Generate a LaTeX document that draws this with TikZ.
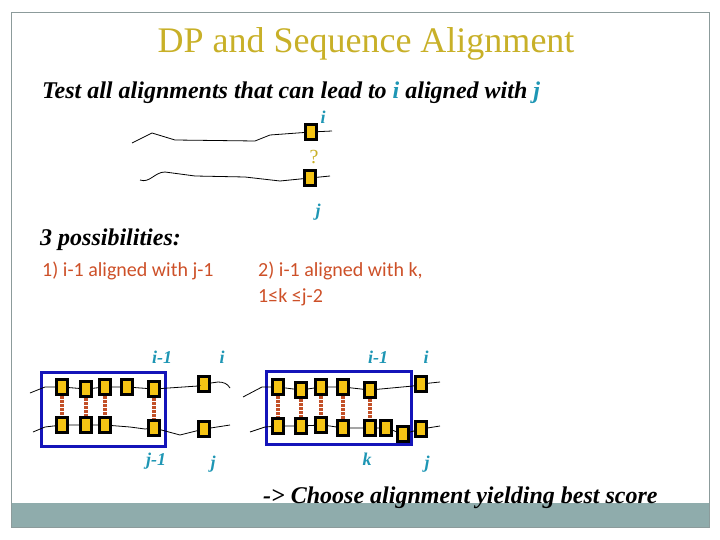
\documentclass[tikz,border=0pt]{standalone}
\usepackage{fontspec}
\setmainfont{Liberation Serif}
\newfontfamily\calibrifont{Carlito}
\definecolor{titlegold}{RGB}{200,176,40}
\definecolor{boxgold}{RGB}{245,196,20}
\definecolor{labteal}{RGB}{30,150,180}
\definecolor{orangered}{RGB}{205,80,40}
\definecolor{pairred}{RGB}{195,80,40}
\definecolor{rectblue}{RGB}{20,20,185}
\definecolor{framegray}{RGB}{140,155,155}
\definecolor{bandgray}{RGB}{143,172,172}
\tikzset{
  seqbox/.style={draw=black, line width=2.8pt, fill=boxgold, minimum width=10.5pt, minimum height=15.5pt, inner sep=0pt},
  lbl/.style={font=\fontsize{18}{18}\selectfont\bfseries\itshape, text=labteal, inner sep=0pt},
  seqline/.style={line width=0.8pt, black},
  pairline/.style={draw=pairred, line width=3.2pt, dash pattern=on 2.6pt off 1.4pt},
  grouprect/.style={draw=rectblue, line width=3pt},
  bigtext/.style={font=\fontsize{24}{24}\selectfont\bfseries\itshape, inner sep=0pt, anchor=base west},
  caltext/.style={font=\fontsize{20}{20}\selectfont\calibrifont, text=orangered, inner sep=0pt, anchor=base west}
}
\begin{document}
\begin{tikzpicture}[x=1pt,y=-1pt]
\useasboundingbox (0,0) rectangle (720,540);
% frame and band
\fill[bandgray] (11,503) rectangle (709,527);
\draw[framegray, line width=0.8pt] (11,12) rectangle (709,527);
% title
\node[font=\fontsize{36}{36}\selectfont, text=titlegold, anchor=base, inner sep=0pt] (title) at (366,53) {DP and Sequence Alignment};
\node[bigtext] (sub) at (42,99) {Test all alignments that can lead to \textcolor{labteal}{i} aligned with \textcolor{labteal}{j}};
% top pair
\node[seqbox] (u1) at (311,132) {};
\node[seqbox] (u2) at (310,178) {};
\node[lbl] (ui) at (323,117) {i};
\node[lbl] (uj) at (318,212) {j};
\node[font=\fontsize{20}{20}\selectfont, text=titlegold, inner sep=0pt] (q) at (314,157) {?};
\coordinate (ua0) at (132,143);
\coordinate (ua1) at (152,133);
\coordinate (ua2) at (175,140);
\coordinate (ua3) at (255,141);
\coordinate (ua4) at (270,135);
\coordinate (ua5) at (332,131);
\draw[seqline] (ua0) -- (ua1) -- (ua2) -- (ua3) -- (ua4) -- (u1) -- (ua5);
\coordinate (ub0) at (140,180);
\coordinate (ub1) at (165,172);
\coordinate (ub2) at (195,176);
\coordinate (ub3) at (245,177);
\coordinate (ub4) at (280,181);
\coordinate (ub5) at (330,176);
\draw[seqline] (ub0) to[out=-20,in=180] (ub1) -- (ub2) -- (ub3) -- (ub4) -- (u2) -- (ub5);
% 3 possibilities
\node[bigtext] (poss) at (40,245) {3 possibilities:};
\node[caltext] (c1) at (42,276) {1) i-1 aligned with j-1};
\node[caltext] (c2) at (258,276) {2) i-1 aligned with k,};
\node[caltext] (c3) at (258,302) {1≤k ≤j-2};
% ---------- left diagram
\draw[grouprect] (41,372) rectangle (165,446);
\node[seqbox] (lt1) at (62,387) {};
\node[seqbox] (lt2) at (86,389) {};
\node[seqbox] (lt3) at (105,387) {};
\node[seqbox] (lt4) at (127,387) {};
\node[seqbox] (lt5) at (154,389) {};
\node[seqbox] (lb1) at (62,425) {};
\node[seqbox] (lb2) at (86,425) {};
\node[seqbox] (lb3) at (105,425) {};
\node[seqbox] (lb5) at (154,428) {};
\node[seqbox] (li) at (204,384) {};
\node[seqbox] (lj) at (204,429) {};
\coordinate (la0) at (30,393);
\coordinate (la1) at (45,387);
\coordinate (la2) at (198,386);
\coordinate (la3) at (230,388);
\coordinate (la4) at (218,382);
\draw[seqline] (la0) -- (la1) -- (lt1) -- (lt2) -- (lt3) -- (lt4) -- (lt5) -- (la2) -- (li) -- (la4) to[out=0,in=120] (la3);
\coordinate (lc0) at (33,432);
\coordinate (lc1) at (45,427);
\coordinate (lc2) at (130,427);
\coordinate (lc3) at (145,429);
\coordinate (lc4) at (180,435);
\coordinate (lc5) at (230,425);
\draw[seqline] (lc0) -- (lc1) -- (lb1) -- (lb2) -- (lb3) -- (lc2) -- (lc3) -- (lb5) -- (lc4) -- (lj) -- (lc5);
\draw[pairline] (lt1) -- (lb1);
\draw[pairline] (lt2) -- (lb2);
\draw[pairline] (lt3) -- (lb3);
\draw[pairline] (lt5) -- (lb5);
\node[lbl] (lli1) at (162,357) {i-1};
\node[lbl] (lli) at (222,357) {i};
\node[lbl] (llj1) at (156,461) {j-1};
\node[lbl] (llj) at (213,464) {j};
% ---------- right diagram
\draw[grouprect] (266,371) rectangle (411,444);
\node[seqbox] (rt1) at (278,387) {};
\node[seqbox] (rt2) at (301,390) {};
\node[seqbox] (rt3) at (321,387) {};
\node[seqbox] (rt4) at (343,387) {};
\node[seqbox] (rt5) at (370,390) {};
\node[seqbox] (rb1) at (278,426) {};
\node[seqbox] (rb2) at (301,426) {};
\node[seqbox] (rb3) at (321,425) {};
\node[seqbox] (rb4) at (343,428) {};
\node[seqbox] (rb5) at (370,428) {};
\node[seqbox] (rb6) at (386,428) {};
\node[seqbox] (rb7) at (403,434) {};
\node[seqbox] (ri) at (421,384) {};
\node[seqbox] (rj) at (421,429) {};
\coordinate (ra0) at (243,397);
\coordinate (ra1) at (262,387);
\coordinate (ra2) at (413,386);
\coordinate (ra3) at (440,382);
\draw[seqline] (ra0) -- (ra1) -- (rt1) -- (rt2) -- (rt3) -- (rt4) -- (rt5) -- (ra2) -- (ri) -- (ra3);
\coordinate (rc0) at (250,432);
\coordinate (rc1) at (265,427);
\coordinate (rc2) at (330,426);
\coordinate (rc3) at (440,426);
\draw[seqline] (rc0) -- (rc1) -- (rb1) -- (rb2) -- (rb3) -- (rc2) -- (rb4) -- (rb5) -- (rb6) -- (rb7) -- (rj) -- (rc3);
\draw[pairline] (rt1) -- (rb1);
\draw[pairline] (rt2) -- (rb2);
\draw[pairline] (rt3) -- (rb3);
\draw[pairline] (rt4) -- (rb4);
\draw[pairline] (rt5) -- (rb5);
\node[lbl] (rli1) at (378,357) {i-1};
\node[lbl] (rli) at (426,357) {i};
\node[lbl] (rlk) at (367,459) {k};
\node[lbl] (rlj) at (427,464) {j};
% bottom text
\node[bigtext] (choose) at (263,503) {-> Choose alignment yielding best score};
\end{tikzpicture}
\end{document}
